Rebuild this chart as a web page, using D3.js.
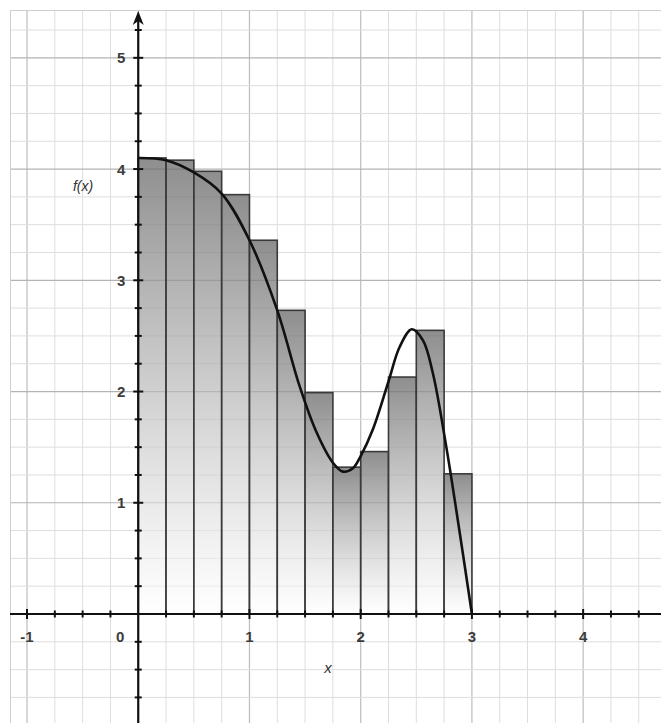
<!DOCTYPE html>
<html>
<head>
<meta charset="utf-8">
<script src="https://cdn.jsdelivr.net/npm/d3@7"></script>
<style>
  html, body { margin: 0; padding: 0; background: #fff; }
  svg { display: block; }
  text { font-family: "Liberation Sans", Arial, sans-serif; }
</style>
</head>
<body>
<svg id="chart" width="661" height="723"></svg>
<script>
// ---- data ----
const barLeft   = [0, 0.25, 0.5, 0.75, 1, 1.25, 1.5, 1.75, 2, 2.25, 2.5, 2.75];
const barHeight = [4.10, 4.08, 3.98, 3.77, 3.36, 2.73, 1.99, 1.32, 1.46, 2.13, 2.55, 1.26];
const barWidth  = 0.25;
const curveX = [0, 0.25, 0.5, 0.75, 1.0, 1.25, 1.45, 1.6, 1.75, 1.84, 1.93, 2.0, 2.11, 2.25, 2.35, 2.46, 2.56, 2.65, 2.77, 2.86, 3.0];
const curveY = [4.10, 4.08, 3.97, 3.78, 3.36, 2.73, 2.05, 1.64, 1.36, 1.28, 1.31, 1.42, 1.66, 2.09, 2.40, 2.56, 2.46, 2.16, 1.50, 0.93, 0];
const xTickLabels = [-1, 0, 1, 2, 3, 4];
const yTickLabels = [1, 2, 3, 4, 5];
const xDomain = [-1.153, 4.70];
const yDomain = [-0.98, 5.43];

// ---- layout ----
const svg = d3.select("#chart");
const W = 661, H = 723;
const padL = 10, padT = 10;
const x = d3.scaleLinear().domain(xDomain).range([padL, W]);
const y = d3.scaleLinear().domain(yDomain).range([H, padT]);
const isInt = d => Math.abs(d - Math.round(d)) < 1e-6;

const defs = svg.append("defs");
const grad = defs.append("linearGradient").attr("id", "barGrad")
  .attr("x1", 0).attr("y1", 0).attr("x2", 0).attr("y2", 1);
grad.append("stop").attr("offset", "0%").attr("stop-color", "#6e6e6e").attr("stop-opacity", 0.78);
grad.append("stop").attr("offset", "100%").attr("stop-color", "#ffffff").attr("stop-opacity", 0.55);

// grid
const minorX = d3.range(-1, 4.76, 0.25);
const minorY = d3.range(-0.75, 5.5, 0.25);
const g = svg.append("g");
g.selectAll(".vx").data(minorX).join("line")
  .attr("x1", d => x(d)).attr("x2", d => x(d)).attr("y1", padT).attr("y2", H)
  .attr("stroke", d => isInt(d) ? "#bdbdbd" : "#dedede")
  .attr("stroke-width", d => isInt(d) ? 1.2 : 1);
g.selectAll(".hy").data(minorY).join("line")
  .attr("y1", d => y(d)).attr("y2", d => y(d)).attr("x1", padL).attr("x2", W)
  .attr("stroke", d => isInt(d) ? "#b3b3b3" : "#dedede")
  .attr("stroke-width", d => isInt(d) ? 1.2 : 1);
// border
svg.append("line").attr("x1", padL + 0.5).attr("x2", padL + 0.5).attr("y1", padT).attr("y2", H).attr("stroke", "#cfcfcf");
svg.append("line").attr("x1", padL).attr("x2", W).attr("y1", padT + 0.5).attr("y2", padT + 0.5).attr("stroke", "#cfcfcf");

// bars
svg.append("g").selectAll("rect").data(barLeft).join("rect")
  .attr("x", d => x(d))
  .attr("width", d => x(d + barWidth) - x(d))
  .attr("y", (d, i) => y(barHeight[i]))
  .attr("height", (d, i) => y(0) - y(barHeight[i]))
  .attr("fill", "url(#barGrad)")
  .attr("stroke", "#3a3a3a")
  .attr("stroke-width", 1.6);

// axes
const ax = svg.append("g");
ax.append("line").attr("x1", padL).attr("x2", W).attr("y1", y(0)).attr("y2", y(0))
  .attr("stroke", "#111").attr("stroke-width", 2.2);
ax.append("line").attr("x1", x(0)).attr("x2", x(0)).attr("y1", 20).attr("y2", H)
  .attr("stroke", "#111").attr("stroke-width", 2.2);
// arrow head
ax.append("path")
  .attr("d", `M${x(0)},${padT + 1} L${x(0) - 5.5},${padT + 15} L${x(0)},${padT + 11} L${x(0) + 5.5},${padT + 15} Z`)
  .attr("fill", "#111");
// ticks
const xt = d3.range(-1, 4.76, 0.25).filter(d => Math.abs(d) > 1e-6);
ax.selectAll(".xt").data(xt).join("line")
  .attr("x1", d => x(d)).attr("x2", d => x(d))
  .attr("y1", d => y(0) - (isInt(d) ? 5 : 3.5))
  .attr("y2", d => y(0) + (isInt(d) ? 5 : 3.5))
  .attr("stroke", "#111").attr("stroke-width", 2);
const yt = d3.range(-0.75, 5.3, 0.25).filter(d => Math.abs(d) > 1e-6);
ax.selectAll(".yt").data(yt).join("line")
  .attr("y1", d => y(d)).attr("y2", d => y(d))
  .attr("x1", d => x(0) - (isInt(d) ? 5 : 3.5))
  .attr("x2", d => x(0) + (isInt(d) ? 5 : 3.5))
  .attr("stroke", "#111").attr("stroke-width", 2);

// curve
const pts = curveX.map((d, i) => [d, curveY[i]]);
svg.append("path").datum(pts)
  .attr("d", d3.line().x(d => x(d[0])).y(d => y(d[1])).curve(d3.curveCatmullRom.alpha(0.5)))
  .attr("fill", "none").attr("stroke", "#111").attr("stroke-width", 2.6)
  .attr("stroke-linejoin", "round");

// labels
const lab = svg.append("g").attr("fill", "#3c3c3c").attr("font-size", 15).attr("font-weight", "bold");
lab.selectAll(".xl").data(xTickLabels).join("text")
  .attr("x", d => d === 0 ? x(0) - 18 : x(d))
  .attr("y", y(0) + 28)
  .attr("text-anchor", "middle")
  .text(d => d);
lab.selectAll(".yl").data(yTickLabels).join("text")
  .attr("x", x(0) - 13)
  .attr("y", d => y(d) + 5.5)
  .attr("text-anchor", "end")
  .text(d => d);
svg.append("text").attr("x", 328).attr("y", 673).attr("text-anchor", "middle")
  .attr("font-size", 15).attr("font-style", "italic").attr("fill", "#333").text("x");
svg.append("text").attr("x", 83).attr("y", 191).attr("text-anchor", "middle")
  .attr("font-size", 14).attr("font-style", "italic").attr("fill", "#333").text("f(x)");
</script>
</body>
</html>
